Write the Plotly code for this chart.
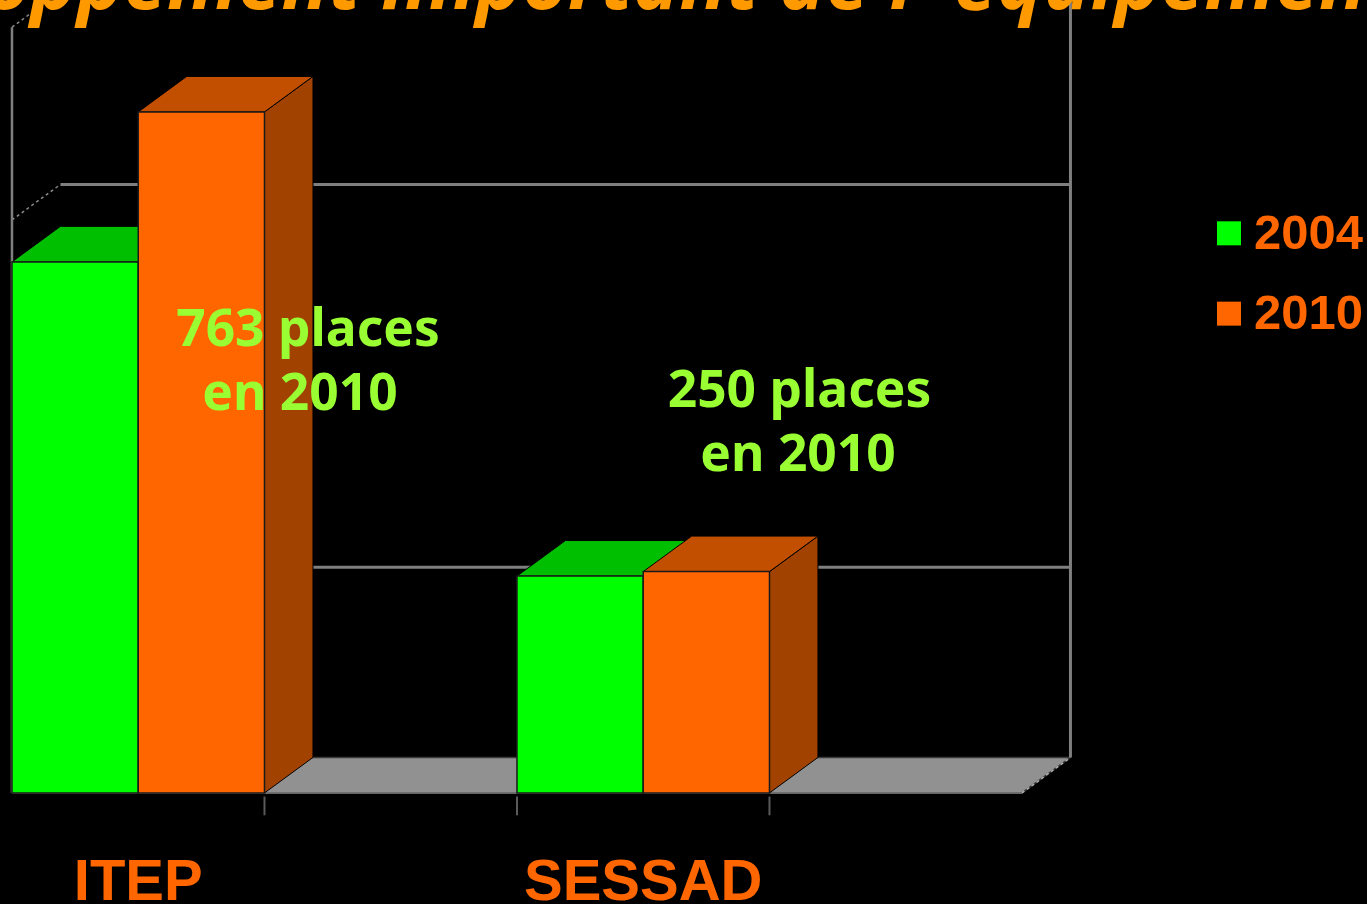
import plotly.graph_objects as go

CATEGORIES = ["ITEP", "SESSAD"]
CATEGORY_POS = [1, 5]
SERIES = ["2004", "2010"]
VALUES_2004 = [595, 243]
VALUES_2010 = [763, 248]
GRID_VALUES = [213, 642, 858]
AXIS_TOP = 858
TICK_POS = [2, 4, 6]
NOTE_LINES = ["763 places", "en 2010", "250 places", "en 2010"]
NOTE_X = [2.345, 2.281, 6.238, 6.226]
NOTE_Y = [515, 443, 447, 375]

FRONT = {"2004": "#00FF00", "2010": "#FF6600"}
TOP = {"2004": "#00BF00", "2010": "#C24F00"}
SIDE = {"2004": "#009900", "2010": "#A14200"}
GREY = "#7F7F7F"
DX, DY = 0.384, 39.8
X_RANGE = [-0.095, 10.733]
Y_RANGE = [-124.4, 888.4]

fig = go.Figure()


def poly(xs, ys, fill, line="#000000", width=1):
    fig.add_trace(go.Scatter(x=xs, y=ys, mode="lines", fill="toself", fillcolor=fill,
                             line=dict(color=line, width=width), hoverinfo="skip", showlegend=False))


def seg(xs, ys, color=GREY, width=2, dash="solid"):
    fig.add_trace(go.Scatter(x=xs, y=ys, mode="lines", line=dict(color=color, width=width, dash=dash),
                             hoverinfo="skip", showlegend=False))


# floor
poly([0, 8, 8 + DX, DX, 0], [0, 0, DY, DY, 0], "#919191", "#3A3A3A", 1.5)
# walls and gridlines
for g in GRID_VALUES:
    seg([DX, 8 + DX], [g + DY, g + DY], GREY, 3)
    seg([0, DX], [g, g + DY], "#8A8A8A", 1.5, "dot")
seg([8, 8 + DX], [0, DY], "#B0B0B0", 1.5, "dot")
seg([0, 0], [0, AXIS_TOP], GREY, 2.5)
seg([8 + DX, 8 + DX], [DY, AXIS_TOP + DY], GREY, 3)
seg([0, 8], [0, 0], "#7A7A7A", 1.5)
# tick marks
for t in TICK_POS:
    seg([t, t], [-4, -25], "#5A5A5A", 2)

# oblique faces of the bars
for name, vals, off in (("2004", VALUES_2004, -1), ("2010", VALUES_2010, 0)):
    for c, v in zip(CATEGORY_POS, vals):
        x0, x1 = c + off, c + off + 1
        poly([x1, x1 + DX, x1 + DX, x1, x1], [0, DY, v + DY, v, 0], SIDE[name])
        poly([x0, x1, x1 + DX, x0 + DX, x0], [v, v, v + DY, v + DY, v], TOP[name])

# front faces on an overlaying axis pair, so they cover the oblique faces
for name, vals in (("2004", VALUES_2004), ("2010", VALUES_2010)):
    fig.add_trace(go.Bar(x=CATEGORY_POS, y=vals, name=name,
                         marker=dict(color=FRONT[name], line=dict(color="#1A1A1A", width=1.5)),
                         xaxis="x2", yaxis="y2", showlegend=False))

# category labels
fig.add_trace(go.Scatter(x=CATEGORY_POS, y=[-104, -104], mode="text", text=CATEGORIES, xaxis="x2", yaxis="y2",
                         textfont=dict(family="Liberation Sans", size=58, color="#FF6600", weight="bold"),
                         cliponaxis=False, showlegend=False, hoverinfo="skip"))
# notes
fig.add_trace(go.Scatter(x=NOTE_X, y=NOTE_Y, mode="text", text=NOTE_LINES, xaxis="x2", yaxis="y2",
                         textfont=dict(family="Noto Sans", size=51.5, color="#99FF33", weight="bold"),
                         showlegend=False, hoverinfo="skip"))
# legend keys and labels
fig.add_trace(go.Scatter(x=[9.64, 9.64], y=[627, 537], mode="markers",
                         marker=dict(symbol="square", size=24, color=[FRONT[s] for s in SERIES]),
                         xaxis="x2", yaxis="y2", cliponaxis=False, showlegend=False, hoverinfo="skip"))
fig.add_trace(go.Scatter(x=[9.838, 9.838], y=[623.5, 533.5], mode="text", text=SERIES,
                         textposition="middle right",
                         textfont=dict(family="Liberation Sans", size=49, color="#FF6600", weight="bold"),
                         xaxis="x2", yaxis="y2", cliponaxis=False, showlegend=False, hoverinfo="skip"))

fig.add_annotation(text="<b><i>Un développement important de l' équipement</i></b>", xref="paper", yref="paper",
                   x=0.5, y=1.0, xshift=-150, yshift=77, xanchor="center", yanchor="top", showarrow=False,
                   font=dict(family="Noto Sans", size=78.3, color="#FF9900"))

ax = dict(visible=False, showgrid=False, zeroline=False, fixedrange=True)
fig.update_layout(
    width=1367, height=904, margin=dict(l=0, r=0, t=0, b=0),
    paper_bgcolor="#000000", plot_bgcolor="#000000",
    barmode="group", bargap=0.5, bargroupgap=0, showlegend=False,
    xaxis=dict(range=X_RANGE, **ax), yaxis=dict(range=Y_RANGE, **ax),
    xaxis2=dict(range=X_RANGE, overlaying="x", **ax), yaxis2=dict(range=Y_RANGE, overlaying="y", **ax),
)
fig.write_html("out.html", config={"displayModeBar": False},
               post_script="document.body.style.margin='0';document.body.style.overflow='hidden';document.body.style.background='#000';")
